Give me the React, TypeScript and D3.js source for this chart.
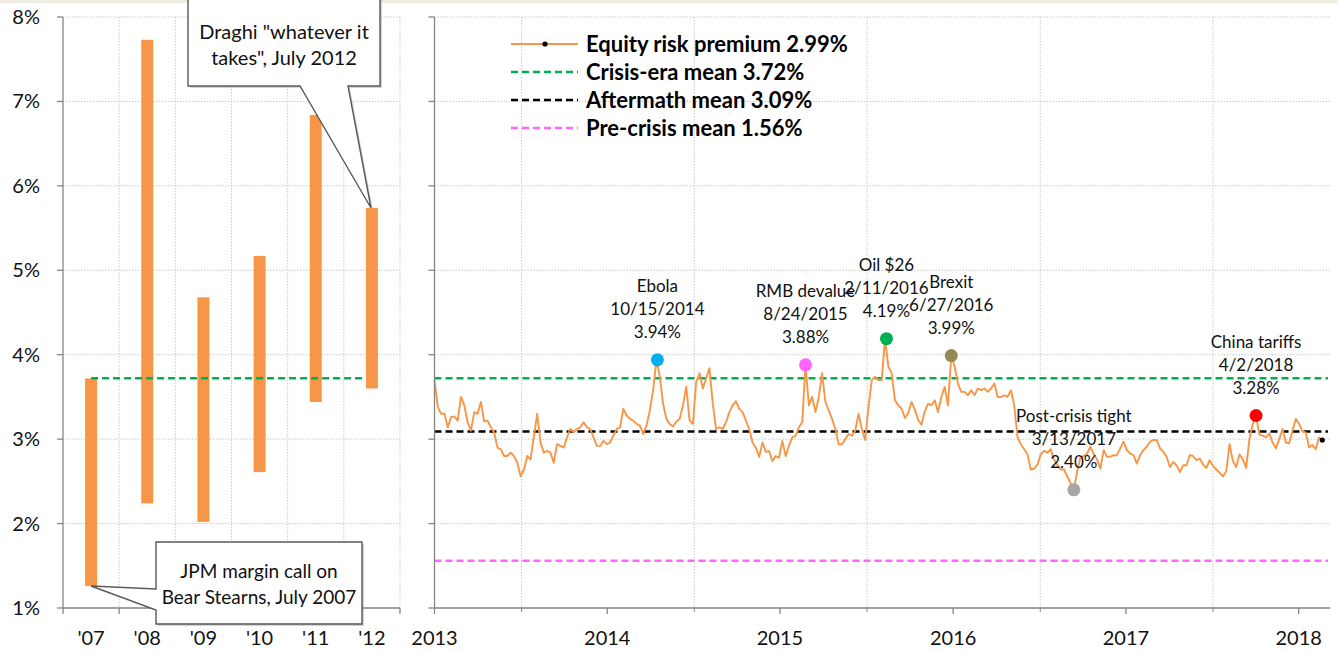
import React from 'react';
import * as d3 from 'd3';

// crisis-era yearly ranges (left panel)
const crisisYears = ["'07", "'08", "'09", "'10", "'11", "'12"];
const crisisLows = [1.26, 2.24, 2.02, 2.61, 3.44, 3.60];
const crisisHighs = [3.72, 7.73, 4.68, 5.17, 6.84, 5.74];
const yTicks = [1, 2, 3, 4, 5, 6, 7, 8];

// weekly equity risk premium, starting Monday 2013-07-01
const ermStart = '2013-07-01';
const ermStepDays = 7;
const ermValues = [
  3.70, 3.38, 3.30, 3.30, 3.14, 3.26, 3.27, 3.22, 3.50, 3.40,
  3.20, 3.10, 3.32, 3.30, 3.44, 3.21, 3.22, 3.14, 3.08, 2.90,
  2.88, 2.80, 2.80, 2.84, 2.80, 2.72, 2.56, 2.64, 2.80, 2.76,
  3.03, 3.30, 2.96, 2.84, 2.86, 2.84, 2.72, 2.94, 2.92, 2.90,
  3.02, 3.12, 3.08, 3.12, 3.14, 3.20, 3.14, 3.12, 3.02, 2.92,
  2.92, 2.98, 2.94, 2.96, 3.04, 3.12, 3.14, 3.36, 3.28, 3.24,
  3.22, 3.18, 3.16, 3.06, 3.16, 3.34, 3.58, 3.94, 3.74, 3.42,
  3.24, 3.18, 3.15, 3.21, 3.24, 3.40, 3.62, 3.22, 3.18, 3.68,
  3.78, 3.60, 3.72, 3.84, 3.42, 3.12, 3.14, 3.12, 3.20, 3.32,
  3.40, 3.45, 3.36, 3.32, 3.22, 3.12, 2.96, 2.90, 2.79, 2.96,
  2.85, 2.86, 2.74, 2.80, 2.78, 2.98, 2.80, 2.92, 3.02, 3.04,
  3.14, 3.20, 3.88, 3.40, 3.50, 3.32, 3.50, 3.78, 3.44, 3.34,
  3.24, 3.12, 2.94, 2.94, 3.00, 3.06, 3.04, 3.10, 3.30, 3.12,
  2.99, 3.38, 3.70, 3.74, 3.70, 3.70, 4.19, 3.86, 3.78, 3.46,
  3.40, 3.36, 3.25, 3.31, 3.44, 3.35, 3.23, 3.17, 3.33, 3.42,
  3.40, 3.46, 3.32, 3.50, 3.62, 3.40, 3.99, 3.86, 3.66, 3.56,
  3.56, 3.52, 3.58, 3.52, 3.60, 3.58, 3.60, 3.56, 3.60, 3.66,
  3.50, 3.50, 3.52, 3.50, 3.58, 3.40, 3.02, 2.94, 2.88, 2.82,
  2.64, 2.65, 2.70, 2.82, 2.86, 2.84, 2.88, 2.76, 2.70, 2.64,
  2.64, 2.56, 2.48, 2.40, 2.62, 2.79, 2.80, 2.83, 2.91, 2.82,
  2.76, 2.65, 2.87, 2.79, 2.79, 2.81, 2.81, 2.89, 2.97, 2.87,
  2.83, 2.81, 2.71, 2.81, 2.87, 2.91, 2.97, 2.99, 2.99, 2.89,
  2.85, 2.79, 2.67, 2.73, 2.69, 2.61, 2.69, 2.69, 2.81, 2.80,
  2.75, 2.77, 2.70, 2.66, 2.75, 2.68, 2.64, 2.60, 2.56, 2.62,
  2.94, 2.74, 2.67, 2.82, 2.76, 2.66, 3.00, 3.18, 3.28, 3.05,
  3.04, 3.02, 3.07, 2.96, 2.89, 3.00, 3.12, 2.96, 2.95, 3.10,
  3.24, 3.18, 3.09, 3.08, 2.90, 2.93, 2.88, 3.02, 2.99,
];

// reference means
const meanLabels = ['Crisis-era mean 3.72%', 'Aftermath mean 3.09%', 'Pre-crisis mean 1.56%'];
const meanValues = [3.72, 3.09, 1.56];
const meanColors = ['#00B050', '#000000', '#FF66FF'];

// annotated events
const eventNames = ['Ebola', 'RMB devalue', 'Oil $26', 'Brexit', 'Post-crisis tight', 'China tariffs'];
const eventDates = ['2014-10-15', '2015-08-24', '2016-02-11', '2016-06-27', '2017-03-13', '2018-04-02'];
const eventLabels = ['10/15/2014', '8/24/2015', '2/11/2016', '6/27/2016', '3/13/2017', '4/2/2018'];
const eventValues = [3.94, 3.88, 4.19, 3.99, 2.40, 3.28];
const eventColors = ['#00B0F0', '#FF66FF', '#00B050', '#948A54', '#A6A6A6', '#FF0000'];

const yearLabels = [2013, 2014, 2015, 2016, 2017, 2018];

const FONT = "Lato, 'Open Sans', sans-serif";
const ORANGE = '#F79646';
const GRID = '#C9C9C9';
const AXIS = '#868686';

const parse = d3.timeParse('%Y-%m-%d');

export default function App() {
  const width = 1338;
  const height = 651;

  // shared y scale
  const y = d3.scaleLinear().domain([1, 8]).range([608, 17]);

  // left panel
  const xl = d3.scaleBand<string>().domain(crisisYears).range([63, 400]);
  const barW = 12;

  // right panel
  const x = d3.scaleTime()
    .domain([new Date(2013, 6, 1), new Date(2018, 8, 1)])
    .range([434.5, 1328]);
  const start = parse(ermStart) as Date;
  const dateAt = (i: number) => d3.timeDay.offset(start, i * ermStepDays);
  const line = d3.line<number>()
    .x((d, i) => x(dateAt(i)))
    .y((d) => y(d));
  const lastIdx = ermValues.length - 1;

  const yearMid = yearLabels.map((yr) => new Date(yr, 6, 1));
  const yearStart = yearLabels.slice(1).map((yr) => new Date(yr, 0, 1));

  const fmtPct = d3.format('.2f');

  return (
    <div style={{ position: 'absolute', left: 0, top: 0 }}>
      <svg width={width} height={height} style={{ display: 'block', background: '#fff' }} fontFamily={FONT}>
        <rect x={0} y={0} width={width} height={3} fill="#EEECE1" />

        {/* ---------- left panel ---------- */}
        {yTicks.map((t) => (
          <line key={'lg' + t} x1={63} x2={400} y1={y(t)} y2={y(t)} stroke={GRID} strokeDasharray="1.5,1.5" />
        ))}
        {crisisYears.map((c) => (
          <line key={'lv' + c} x1={(xl(c) as number) + xl.bandwidth()} x2={(xl(c) as number) + xl.bandwidth()}
            y1={y(8)} y2={y(1)} stroke={GRID} strokeDasharray="1.5,1.5" />
        ))}
        {crisisYears.map((c, i) => (
          <rect key={'b' + c}
            x={(xl(c) as number) + xl.bandwidth() / 2 - barW / 2}
            y={y(crisisHighs[i])}
            width={barW}
            height={y(crisisLows[i]) - y(crisisHighs[i])}
            fill={ORANGE} />
        ))}
        <line
          x1={(xl(crisisYears[0]) as number) + xl.bandwidth() / 2}
          x2={(xl(crisisYears[crisisYears.length - 1]) as number) + xl.bandwidth() / 2 - 6}
          y1={y(meanValues[0])} y2={y(meanValues[0])}
          stroke={meanColors[0]} strokeWidth={2.5} strokeDasharray="7,4" />
        {/* left axes */}
        <line x1={63} x2={63} y1={y(8)} y2={y(1)} stroke={AXIS} strokeWidth={1.3} />
        {yTicks.map((t) => (
          <g key={'lt' + t}>
            <line x1={57} x2={63} y1={y(t)} y2={y(t)} stroke={AXIS} strokeWidth={1.3} />
            <text x={40} y={y(t) + 7} textAnchor="end" fontSize={20} fill="#111">{t}%</text>
          </g>
        ))}
        <line x1={63} x2={400} y1={y(1)} y2={y(1)} stroke={AXIS} strokeWidth={1.3} />
        {[63, ...crisisYears.map((c) => (xl(c) as number) + xl.bandwidth())].map((px, i) => (
          <line key={'lxt' + i} x1={px} x2={px} y1={y(1)} y2={y(1) + 6} stroke={AXIS} strokeWidth={1.3} />
        ))}
        {crisisYears.map((c) => (
          <text key={'lx' + c} x={(xl(c) as number) + xl.bandwidth() / 2} y={645} textAnchor="middle" fontSize={20} fill="#111">{c}</text>
        ))}

        {/* ---------- right panel ---------- */}
        {yTicks.map((t) => (
          <line key={'rg' + t} x1={434.5} x2={1330} y1={y(t)} y2={y(t)} stroke={GRID} strokeDasharray="1.5,1.5" />
        ))}
        {yearStart.map((d, i) => (
          <line key={'rv' + i} x1={x(d)} x2={x(d)} y1={y(8)} y2={y(1)} stroke={GRID} strokeDasharray="1.5,1.5" />
        ))}
        {meanValues.map((m, i) => (
          <line key={'m' + i} x1={434.5} x2={1328} y1={y(m)} y2={y(m)}
            stroke={meanColors[i]} strokeWidth={2.5} strokeDasharray="7,4" />
        ))}
        <path d={line(ermValues) || ''} fill="none" stroke={ORANGE} strokeWidth={1.9} strokeLinejoin="round" />
        <circle cx={x(dateAt(lastIdx))} cy={y(ermValues[lastIdx])} r={2.6} fill="#000" />

        {/* right axes */}
        <line x1={434.5} x2={434.5} y1={y(8)} y2={y(1)} stroke={AXIS} strokeWidth={1.3} />
        {yTicks.map((t) => (
          <line key={'rt' + t} x1={428.5} x2={434.5} y1={y(t)} y2={y(t)} stroke={AXIS} strokeWidth={1.3} />
        ))}
        <line x1={434.5} x2={1330} y1={y(1)} y2={y(1)} stroke={AXIS} strokeWidth={1.3} />
        {yearMid.map((d, i) => (
          <g key={'rx' + i}>
            <line x1={x(d)} x2={x(d)} y1={y(1)} y2={y(1) + 6} stroke={AXIS} strokeWidth={1.3} />
            <text x={x(d)} y={645} textAnchor="middle" fontSize={20} fill="#111">{yearLabels[i]}</text>
          </g>
        ))}
        {yearStart.map((d, i) => (
          <line key={'rxs' + i} x1={x(d)} x2={x(d)} y1={y(1)} y2={y(1) + 4} stroke={AXIS} strokeWidth={1} />
        ))}

        {/* event markers and labels */}
        {eventNames.map((n, i) => {
          const cx = x(parse(eventDates[i]) as Date);
          const cy = y(eventValues[i]);
          const lines = [n, eventLabels[i], fmtPct(eventValues[i]) + '%'];
          return (
            <g key={'ev' + i}>
              <circle cx={cx} cy={cy} r={6.5} fill={eventColors[i]} />
              {lines.map((s, k) => (
                <text key={k} x={cx} y={cy - 28 - 23 * (2 - k) + 6} textAnchor="middle" fontSize={17} fill="#111">{s}</text>
              ))}
            </g>
          );
        })}

        {/* legend */}
        <g>
          <line x1={511} x2={578} y1={44} y2={44} stroke={ORANGE} strokeWidth={2} />
          <circle cx={545} cy={44} r={2.6} fill="#000" />
          <text x={586} y={52} fontSize={22} fontWeight={700} fill="#000">
            Equity risk premium {fmtPct(ermValues[lastIdx])}%
          </text>
          {meanLabels.map((lab, i) => (
            <g key={'lgd' + i}>
              <line x1={511} x2={578} y1={72 + i * 28} y2={72 + i * 28}
                stroke={meanColors[i]} strokeWidth={2.5} strokeDasharray="7,4" />
              <text x={586} y={80 + i * 28} fontSize={22} fontWeight={700} fill="#000">{lab}</text>
            </g>
          ))}
        </g>

        {/* callouts */}
        <g>
          <path d="M190,-2 L382,-2 L382,88 L350,88 L373,210 L302,88 L190,88 Z" fill="#7F7F7F" opacity={0.35} />
          <path d="M188,-2 L380,-2 L380,86 L348,86 L371,208 L300,86 L188,86 Z" fill="#fff" stroke="#595959" strokeWidth={1.4} />
          <text x={284} y={39} textAnchor="middle" fontSize={20} fill="#111">Draghi "whatever it</text>
          <text x={284} y={65} textAnchor="middle" fontSize={20} fill="#111">takes", July 2012</text>

          <path d="M158,544 L364,544 L364,626 L158,626 Z" fill="#7F7F7F" opacity={0.35} />
          <path d="M156,542 L362,542 L362,624 L156,624 L156,610 L91,586 L156,589 Z" fill="#fff" stroke="#595959" strokeWidth={1.4} />
          <text x={259} y={578} textAnchor="middle" fontSize={19} fill="#111">JPM margin call on</text>
          <text x={259} y={604} textAnchor="middle" fontSize={19} fill="#111">Bear Stearns, July 2007</text>
        </g>
      </svg>
    </div>
  );
}
